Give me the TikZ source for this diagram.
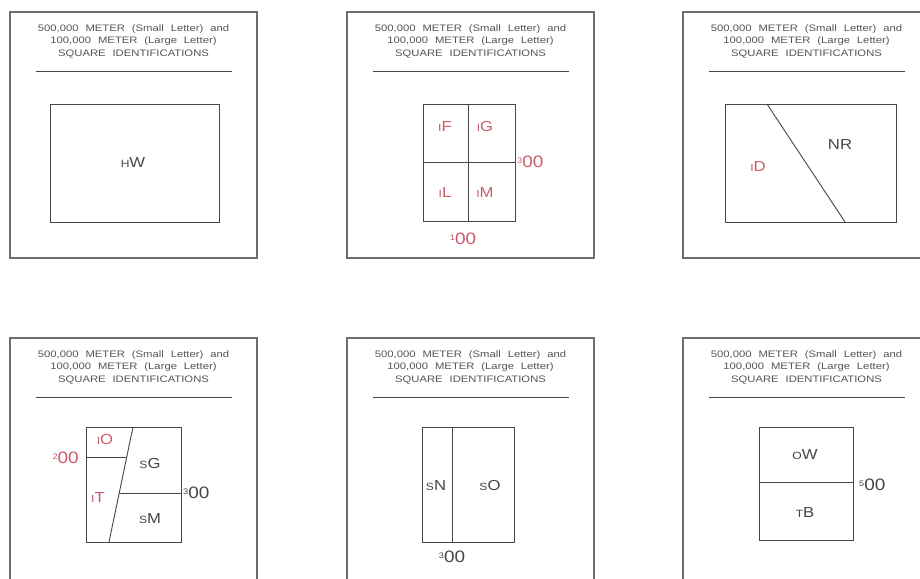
\documentclass[tikz,border=0pt]{standalone}
\usepackage{fontspec}
\setmainfont{Liberation Sans}
\newfontfamily\titlefont[FakeStretch=1.2,WordSpace=2.2]{Liberation Sans}
\newfontfamily\labfont[FakeStretch=1.15]{Liberation Sans}
\definecolor{ink}{RGB}{70,70,70}
\definecolor{frame}{RGB}{110,110,110}
\definecolor{titlegray}{RGB}{85,85,85}
\definecolor{redlab}{RGB}{205,90,105}
\newcommand\smL[1]{{\fontsize{10.5}{10.5}\selectfont #1}}
\newcommand\smD[1]{\raisebox{4.5pt}{\fontsize{8}{8}\selectfont #1}}
\tikzset{
  panelbox/.style={draw=frame,line width=1.1pt},
  gridline/.style={draw=ink,line width=0.9pt},
  titletext/.style={align=center,text=titlegray,font=\titlefont\fontsize{9.4}{12.5}\selectfont,inner sep=0pt},
  blab/.style={text=ink,font=\labfont\fontsize{14.5}{14.5}\selectfont,inner sep=0pt},
  rlab/.style={text=redlab,font=\labfont\fontsize{14.5}{14.5}\selectfont,inner sep=0pt},
  bnum/.style={text=ink,font=\labfont\fontsize{16.5}{16.5}\selectfont,inner sep=0pt},
  rnum/.style={text=redlab,font=\labfont\fontsize{16.5}{16.5}\selectfont,inner sep=0pt}
}
\newcommand\paneltop[1]{%
  \draw[panelbox] (0,0) rectangle (247,246);
  \node[titletext] (title#1) at (123.5,29) {500,000 METER (Small Letter) and\\100,000 METER (Large Letter)\\SQUARE IDENTIFICATIONS};
  \draw[draw=ink,line width=1pt] (26,59) -- (222,59);
}
\begin{document}
\begin{tikzpicture}[x=1pt,y=-1pt]
\useasboundingbox (0,0) rectangle (920,578);
\fill[white] (0,0) rectangle (920,578);
\clip (0,0) rectangle (920,578);
% Panel 1
\begin{scope}[shift={(10,12)}]
  \paneltop{1}
  \draw[gridline] (40,92) rectangle (209,210);
  \node[blab] (hw) at (123,151) {\smL{H}W};
\end{scope}
% Panel 2
\begin{scope}[shift={(347,12)}]
  \paneltop{2}
  \draw[gridline] (76,92) rectangle (168,209);
  \draw[gridline] (121,92) -- (121,209);
  \draw[gridline] (76,150) -- (168,150);
  \node[rlab] (if) at (98,115) {\smL{I}F};
  \node[rlab] (ig) at (138,115) {\smL{I}G};
  \node[rlab] (il) at (98,181) {\smL{I}L};
  \node[rlab] (im) at (138,181) {\smL{I}M};
  \node[rnum,anchor=west] (n2r) at (170,150) {\smD{3}00};
  \node[rnum] (n2b) at (116,227) {\smD{1}00};
\end{scope}
% Panel 3
\begin{scope}[shift={(683,12)}]
  \paneltop{3}
  \draw[gridline] (42,92) rectangle (213,210);
  \draw[gridline] (84,92) -- (162,210);
  \node[blab] (nr) at (157,133) {NR};
  \node[rlab] (id) at (75,155) {\smL{I}D};
\end{scope}
% Panel 4
\begin{scope}[shift={(10,338)}]
  \paneltop{4}
  \draw[gridline] (76,89) rectangle (171,204);
  \draw[gridline] (123,89) -- (99,204);
  \draw[gridline] (76,119) -- (116.7,119);
  \draw[gridline] (109.2,155) -- (171,155);
  \node[rnum,anchor=east] (n4l) at (69,120) {\smD{2}00};
  \node[bnum,anchor=west] (n4r) at (173,155) {\smD{3}00};
  \node[rlab] (io) at (95,102) {\smL{I}O};
  \node[blab] (sg) at (140,126) {\smL{S}G};
  \node[rlab] (it) at (88,160) {\smL{I}T};
  \node[blab] (sm) at (140,181) {\smL{S}M};
\end{scope}
% Panel 5
\begin{scope}[shift={(347,338)}]
  \paneltop{5}
  \draw[gridline] (75,89) rectangle (167,204);
  \draw[gridline] (105,89) -- (105,204);
  \node[blab] (sn) at (89,148) {\smL{S}N};
  \node[blab] (so) at (143,148) {\smL{S}O};
  \node[bnum] (n5b) at (105,219) {\smD{3}00};
\end{scope}
% Panel 6
\begin{scope}[shift={(683,338)}]
  \paneltop{6}
  \draw[gridline] (76,89) rectangle (170,202);
  \draw[gridline] (76,144) -- (170,144);
  \node[blab] (ow) at (122,117) {\smL{O}W};
  \node[blab] (tb) at (122,175) {\smL{T}B};
  \node[bnum,anchor=west] (n6r) at (176,147) {\smD{5}00};
\end{scope}
\end{tikzpicture}
\end{document}
